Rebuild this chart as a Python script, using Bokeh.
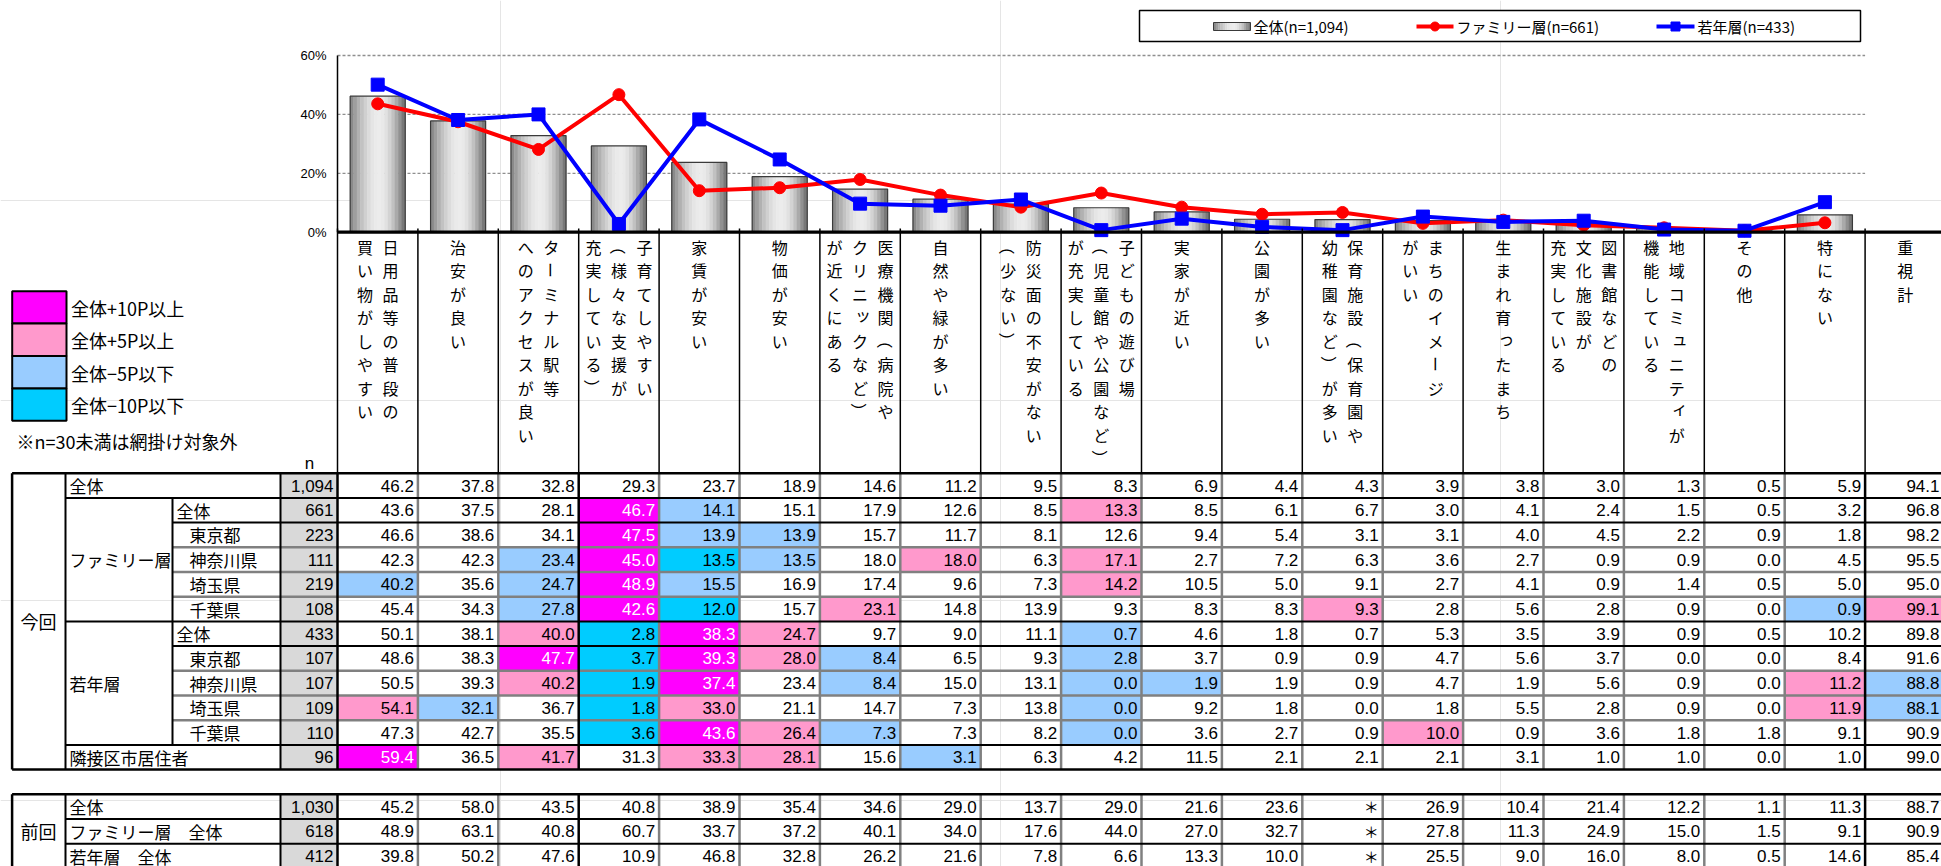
import math
from bokeh.plotting import figure
from bokeh.models import Range1d
from bokeh.core.properties import value
from bokeh.embed import file_html
from bokeh.resources import INLINE

# ---------------- data ----------------
header_lines = [
    ["日用品等の普段の", "買い物がしやすい"],
    ["治安が良い"],
    ["ターミナル駅等", "へのアクセスが良い"],
    ["子育てしやすい", "（様々な支援が", "充実している）"],
    ["家賃が安い"],
    ["物価が安い"],
    ["医療機関（病院や", "クリニックなど）", "が近くにある"],
    ["自然や緑が多い"],
    ["防災面の不安がない", "（少ない）"],
    ["子どもの遊び場", "（児童館や公園など）", "が充実している"],
    ["実家が近い"],
    ["公園が多い"],
    ["保育施設（保育園や", "幼稚園など）が多い"],
    ["まちのイメージ", "がいい"],
    ["生まれ育ったまち"],
    ["図書館などの", "文化施設が", "充実している"],
    ["地域コミュニティが", "機能している"],
    ["その他"],
    ["特にない"],
    ["重視計"],
]

now_all = [46.2, 37.8, 32.8, 29.3, 23.7, 18.9, 14.6, 11.2, 9.5, 8.3, 6.9, 4.4, 4.3, 3.9, 3.8, 3.0, 1.3, 0.5, 5.9, 94.1]
now_fam_all = [43.6, 37.5, 28.1, 46.7, 14.1, 15.1, 17.9, 12.6, 8.5, 13.3, 8.5, 6.1, 6.7, 3.0, 4.1, 2.4, 1.5, 0.5, 3.2, 96.8]
now_fam_tokyo = [46.6, 38.6, 34.1, 47.5, 13.9, 13.9, 15.7, 11.7, 8.1, 12.6, 9.4, 5.4, 3.1, 3.1, 4.0, 4.5, 2.2, 0.9, 1.8, 98.2]
now_fam_kanagawa = [42.3, 42.3, 23.4, 45.0, 13.5, 13.5, 18.0, 18.0, 6.3, 17.1, 2.7, 7.2, 6.3, 3.6, 2.7, 0.9, 0.9, 0.0, 4.5, 95.5]
now_fam_saitama = [40.2, 35.6, 24.7, 48.9, 15.5, 16.9, 17.4, 9.6, 7.3, 14.2, 10.5, 5.0, 9.1, 2.7, 4.1, 0.9, 1.4, 0.5, 5.0, 95.0]
now_fam_chiba = [45.4, 34.3, 27.8, 42.6, 12.0, 15.7, 23.1, 14.8, 13.9, 9.3, 8.3, 8.3, 9.3, 2.8, 5.6, 2.8, 0.9, 0.0, 0.9, 99.1]
now_yng_all = [50.1, 38.1, 40.0, 2.8, 38.3, 24.7, 9.7, 9.0, 11.1, 0.7, 4.6, 1.8, 0.7, 5.3, 3.5, 3.9, 0.9, 0.5, 10.2, 89.8]
now_yng_tokyo = [48.6, 38.3, 47.7, 3.7, 39.3, 28.0, 8.4, 6.5, 9.3, 2.8, 3.7, 0.9, 0.9, 4.7, 5.6, 3.7, 0.0, 0.0, 8.4, 91.6]
now_yng_kanagawa = [50.5, 39.3, 40.2, 1.9, 37.4, 23.4, 8.4, 15.0, 13.1, 0.0, 1.9, 1.9, 0.9, 4.7, 1.9, 5.6, 0.9, 0.0, 11.2, 88.8]
now_yng_saitama = [54.1, 32.1, 36.7, 1.8, 33.0, 21.1, 14.7, 7.3, 13.8, 0.0, 9.2, 1.8, 0.0, 1.8, 5.5, 2.8, 0.9, 0.0, 11.9, 88.1]
now_yng_chiba = [47.3, 42.7, 35.5, 3.6, 43.6, 26.4, 7.3, 7.3, 8.2, 0.0, 3.6, 2.7, 0.9, 10.0, 0.9, 3.6, 1.8, 1.8, 9.1, 90.9]
now_adjacent = [59.4, 36.5, 41.7, 31.3, 33.3, 28.1, 15.6, 3.1, 6.3, 4.2, 11.5, 2.1, 2.1, 2.1, 3.1, 1.0, 1.0, 0.0, 1.0, 99.0]
now_n = [1094, 661, 223, 111, 219, 108, 433, 107, 107, 109, 110, 96]

prev_all = [45.2, 58.0, 43.5, 40.8, 38.9, 35.4, 34.6, 29.0, 13.7, 29.0, 21.6, 23.6, None, 26.9, 10.4, 21.4, 12.2, 1.1, 11.3, 88.7]
prev_fam = [48.9, 63.1, 40.8, 60.7, 33.7, 37.2, 40.1, 34.0, 17.6, 44.0, 27.0, 32.7, None, 27.8, 11.3, 24.9, 15.0, 1.5, 9.1, 90.9]
prev_yng = [39.8, 50.2, 47.6, 10.9, 46.8, 32.8, 26.2, 21.6, 7.8, 6.6, 13.3, 10.0, None, 25.5, 9.0, 16.0, 8.0, 0.5, 14.6, 85.4]
prev_n = [1030, 618, 412]

legend_labels = ["全体(n=1,094)", "ファミリー層(n=661)", "若年層(n=433)"]
pct_ticks = [0, 20, 40, 60]
grid_ticks = [20, 40, 60]
shade_legend = ["全体+10P以上", "全体+5P以上", "全体−5P以下", "全体−10P以下"]
shade_colors = ["#FF00FF", "#FF99CC", "#99CCFF", "#00CCFF"]

now_rows = [now_all, now_fam_all, now_fam_tokyo, now_fam_kanagawa, now_fam_saitama, now_fam_chiba,
            now_yng_all, now_yng_tokyo, now_yng_kanagawa, now_yng_saitama, now_yng_chiba, now_adjacent]
prev_rows = [prev_all, prev_fam, prev_yng]

# chart series (first 19 categories; 重視計 is table only)
NCAT = 19
bar_overall = now_all[:NCAT]
line_family = now_fam_all[:NCAT]
line_young = now_yng_all[:NCAT]

# ---------------- geometry ----------------
JP = "Noto Sans CJK JP"
NUM = "Liberation Sans"
W, H = 1941, 866
OFF = 0.0


def fx(X):
    return X - OFF


def fy(Y):
    return Y - OFF


COL0, CW = 337.0, 80.4
AXIS0, PCT60 = 231.7, 55.0
PPP = (AXIS0 - PCT60) / 60.0
ROW0, RH = 472.7, 24.7

p = figure(width=W, height=H, x_range=Range1d(0, W), y_range=Range1d(H, 0),
           output_backend="svg", toolbar_location=None,
           x_axis_location=None, y_axis_location=None, min_border=0,
           outline_line_color=None, background_fill_color="white", border_fill_color="white")
p.extra_x_ranges = {"cat": Range1d((0 - fx(COL0)) / CW, (W - fx(COL0)) / CW)}
p.extra_y_ranges = {"pct": Range1d(-(H - fy(AXIS0)) / PPP, fy(AXIS0) / PPP),
                    "row": Range1d((H - fy(ROW0)) / RH, -fy(ROW0) / RH)}

# ---------------- chart ----------------
xc = [i + 0.5 for i in range(NCAT)]
p.segment(x0=[0] * len(grid_ticks), x1=[NCAT] * len(grid_ticks), y0=grid_ticks, y1=grid_ticks,
          x_range_name="cat", y_range_name="pct", line_color="#8f8f8f", line_width=1.3, line_dash="3 2")
p.text(x=[fx(326)] * len(pct_ticks), y=pct_ticks, text=[f"{t}%" for t in pct_ticks], y_range_name="pct",
       text_align="right", text_baseline="middle", text_font=value(NUM), text_font_size="13px", text_color="black")

shades = ["#8a8a8a", "#9e9e9e", "#b1b1b1", "#c2c2c2", "#d0d0d0", "#dcdcdc", "#e5e5e5", "#eaeaea",
          "#ececec", "#e9e9e9", "#e1e1e1", "#d3d3d3", "#c1c1c1", "#aaaaaa", "#919191", "#787878"]
BW = 0.685
sw = BW / len(shades)
for k, c in enumerate(shades):
    off = -BW / 2 + (k + 0.5) * sw
    p.vbar(x=[x + off for x in xc], top=bar_overall, bottom=0, width=sw * 1.12,
           fill_color=c, line_color=None, x_range_name="cat", y_range_name="pct")
p.vbar(x=xc, top=bar_overall, bottom=0, width=BW, fill_color=None, line_color="#3a3a3a", line_width=1.2,
       x_range_name="cat", y_range_name="pct")

p.line(xc, line_family, line_color="#FF0000", line_width=4, x_range_name="cat", y_range_name="pct")
p.scatter(xc, line_family, marker="circle", size=12, fill_color="#FF0000", line_color="#FF0000",
          x_range_name="cat", y_range_name="pct")
p.line(xc, line_young, line_color="#0000FF", line_width=4, x_range_name="cat", y_range_name="pct")
p.scatter(xc, line_young, marker="square", size=13, fill_color="#0000FF", line_color="#0000FF",
          x_range_name="cat", y_range_name="pct")

# axes lines
p.segment(x0=[0], x1=[0], y0=[0], y1=[60], x_range_name="cat", y_range_name="pct",
          line_color="black", line_width=1.5)

# ---------------- header (vertical text) ----------------
ncol = len(header_lines)
p.segment(x0=list(range(ncol)), x1=list(range(ncol)), y0=[fy(228)] * ncol, y1=[fy(ROW0)] * ncol,
          x_range_name="cat", line_color="black", line_width=1.5)
p.segment(x0=[0], x1=[ncol + 2], y0=[0], y1=[0], x_range_name="cat", y_range_name="pct",
          line_color="black", line_width=3.2)

ROTATE = set("ー（）")
SMALL = set("ァィゥェォッャュョっゃゅょ")
LINE_GAP, PITCH, HEAD_Y0 = 25.5, 23.5, 246.0
hx, hy, ht, ha, hdx, hdy = [], [], [], [], [], []
for j, lines in enumerate(header_lines):
    n = len(lines)
    for L, line in enumerate(lines):
        xoff = ((n - 1) / 2 - L) * LINE_GAP / CW
        for k, ch in enumerate(line):
            hx.append(j + 0.5 + xoff)
            hy.append(fy(HEAD_Y0) + k * PITCH)
            ht.append(ch)
            ha.append(-math.pi / 2 if ch in ROTATE else 0.0)
            hdx.append(3 if ch in SMALL else 0)
            hdy.append(-3 if ch in SMALL else 0)
p.text(x=hx, y=hy, text=ht, angle=ha, x_offset=hdx, y_offset=hdy, x_range_name="cat",
       text_align="center", text_baseline="middle", text_font=value(JP), text_font_size="16px",
       text_color="black")

p.text(x=[fx(309)], y=[fy(463)], text=["n"], text_align="center", text_baseline="middle",
       text_font=value(NUM), text_font_size="17px", text_color="black")

# ---------------- left shading legend ----------------
lg_top = [290.7 + i * 32.4 for i in range(len(shade_colors))]
p.quad(left=[fx(11.7)] * 4, right=[fx(66)] * 4, top=[fy(t) for t in lg_top],
       bottom=[fy(t + 32.4) for t in lg_top], fill_color=shade_colors, line_color="black", line_width=2)
p.text(x=[fx(70.5)] * 4, y=[fy(t + 16.6) for t in lg_top], text=shade_legend, text_align="left",
       text_baseline="middle", text_font=value(JP), text_font_size="18px", text_color="black")
p.text(x=[fx(16)], y=[fy(440)], text=["※n=30未満は網掛け対象外"], text_align="left",
       text_baseline="middle", text_font=value(JP), text_font_size="18px", text_color="black")


# ---------------- table ----------------
def shade(v, base):
    d = round(v - base, 1)
    if d >= 10:
        return shade_colors[0]
    if d >= 5:
        return shade_colors[1]
    if d <= -10:
        return shade_colors[3]
    if d <= -5:
        return shade_colors[2]
    return None


PREV0 = len(now_rows) + 1  # first row index of 前回 block
all_row_idx = list(range(len(now_rows))) + [PREV0 + i for i in range(len(prev_rows))]

# n column fill
p.quad(left=[fx(280)] * len(all_row_idx), right=[fx(COL0)] * len(all_row_idx),
       top=all_row_idx, bottom=[r + 1 for r in all_row_idx], y_range_name="row",
       fill_color="#D9D9D9", line_color=None)

cl, cr, ct, cb, cc = [], [], [], [], []
tx, ty, tt, tcol, tdx = [], [], [], [], []
XMAX_CAT = (W - 2 - fx(COL0)) / CW
for r, row in enumerate(now_rows):
    for j, v in enumerate(row):
        col = shade(v, now_all[j]) if r > 0 and now_n[r] >= 30 else None
        if col:
            cl.append(j); cr.append(j + 1); ct.append(r); cb.append(r + 1); cc.append(col)
        tx.append(min(j + 1, XMAX_CAT)); ty.append(r + 0.5); tt.append(f"{v:.1f}")
        tcol.append("white" if col == shade_colors[0] else "black")
        tdx.append(-4 if j + 1 < XMAX_CAT else 0)
ax, ay, at = [], [], []
for i, row in enumerate(prev_rows):
    r = PREV0 + i
    for j, v in enumerate(row):
        if v is None:
            ax.append(j + 1); ay.append(r + 0.5); at.append("＊")
            continue
        tx.append(min(j + 1, XMAX_CAT)); ty.append(r + 0.5); tt.append(f"{v:.1f}")
        tcol.append("black"); tdx.append(-4 if j + 1 < XMAX_CAT else 0)

p.quad(left=cl, right=cr, top=ct, bottom=cb, fill_color=cc, line_color=None,
       x_range_name="cat", y_range_name="row")

# grid lines: gray inner verticals
vg = [j for j in range(1, NCAT) if j != 3]
segs_v_top = [0] * len(vg) + [PREV0] * len(vg)
p.segment(x0=vg + vg, x1=vg + vg, y0=segs_v_top,
          y1=[len(now_rows)] * len(vg) + [PREV0 + len(prev_rows) + 1] * len(vg),
          x_range_name="cat", y_range_name="row", line_color="#808080", line_width=2.5)

# horizontal lines: (row boundary, start X, color, width)
hlines = [(0, 11.6, "black", 2.5), (1, 65, "black", 2), (2, 172, "black", 2),
          (3, 172, "#808080", 2.5), (4, 172, "#808080", 2.5), (5, 172, "#808080", 2.5),
          (6, 65, "black", 2), (7, 172, "black", 2),
          (8, 172, "#808080", 2.5), (9, 172, "#808080", 2.5), (10, 172, "#808080", 2.5),
          (11, 65, "black", 2), (12, 11.6, "black", 2.5),
          (PREV0, 11.6, "black", 2.5), (PREV0 + 1, 65, "black", 2), (PREV0 + 2, 65, "black", 2)]
for colr, lw in [("#808080", 2.5), ("black", 2), ("black", 2.5)]:
    sel = [h for h in hlines if h[2] == colr and h[3] == lw]
    p.segment(x0=[fx(h[1]) for h in sel], x1=[W + 5] * len(sel), y0=[h[0] for h in sel],
              y1=[h[0] for h in sel], y_range_name="row", line_color=colr, line_width=lw)

# black verticals (pixel columns)
vb_px = [(11.6, 2.5), (65, 2), (280, 2)]
for X, lw in vb_px:
    p.segment(x0=[fx(X)] * 2, x1=[fx(X)] * 2, y0=[0, PREV0], y1=[len(now_rows), PREV0 + len(prev_rows) + 1],
              y_range_name="row", line_color="black", line_width=lw)
p.segment(x0=[fx(172)], x1=[fx(172)], y0=[1], y1=[len(now_rows) - 1], y_range_name="row",
          line_color="black", line_width=2)
vb_cat = [0, 3, NCAT]
p.segment(x0=vb_cat + vb_cat, x1=vb_cat + vb_cat, y0=[0] * 3 + [PREV0] * 3,
          y1=[len(now_rows)] * 3 + [PREV0 + len(prev_rows) + 1] * 3,
          x_range_name="cat", y_range_name="row", line_color="black", line_width=2.5)

# values
p.text(x=tx, y=ty, text=tt, x_offset=tdx, text_color=tcol, x_range_name="cat", y_range_name="row",
       text_align="right", text_baseline="middle", text_font=value(NUM), text_font_size="17px")
p.text(x=ax, y=ay, text=at, x_offset=-4, x_range_name="cat", y_range_name="row",
       text_align="right", text_baseline="middle", text_font=value(JP), text_font_size="15px",
       text_color="black")

# n values
nr = all_row_idx
nvals = now_n + prev_n
p.text(x=[fx(COL0 - 4)] * len(nr), y=[r + 0.5 for r in nr], text=[f"{v:,}" for v in nvals],
       y_range_name="row", text_align="right", text_baseline="middle", text_font=value(NUM),
       text_font_size="17px", text_color="black")

# row labels
lvl1 = [(6.0, "今回"), (PREV0 + 1.5, "前回")]
p.text(x=[fx(38)] * 2, y=[a for a, _ in lvl1], text=[b for _, b in lvl1], y_range_name="row",
       text_align="center", text_baseline="middle", text_font=value(JP), text_font_size="18px",
       text_color="black")
lvl2 = [(0.5, "全体"), (3.5, "ファミリー層"), (8.5, "若年層"), (11.5, "隣接区市居住者"),
        (PREV0 + 0.5, "全体"), (PREV0 + 1.5, "ファミリー層　全体"), (PREV0 + 2.5, "若年層　全体")]
p.text(x=[fx(69)] * len(lvl2), y=[a for a, _ in lvl2], text=[b for _, b in lvl2], y_range_name="row",
       text_align="left", text_baseline="middle", text_font=value(JP), text_font_size="17px",
       text_color="black")
lvl3 = [(1.5, "全体", 176), (2.5, "東京都", 189), (3.5, "神奈川県", 189), (4.5, "埼玉県", 189),
        (5.5, "千葉県", 189), (6.5, "全体", 176), (7.5, "東京都", 189), (8.5, "神奈川県", 189),
        (9.5, "埼玉県", 189), (10.5, "千葉県", 189)]
p.text(x=[fx(c) for _, _, c in lvl3], y=[a for a, _, _ in lvl3], text=[b for _, b, _ in lvl3],
       y_range_name="row", text_align="left", text_baseline="middle", text_font=value(JP),
       text_font_size="17px", text_color="black")

# ---------------- top legend ----------------
p.quad(left=[fx(1139)], right=[fx(1860)], top=[fy(10)], bottom=[fy(41)], fill_color="white",
       line_color="black", line_width=1.5)
LY = fy(26)
ic_l, ic_r = fx(1213), fx(1250)
isw = (ic_r - ic_l) / len(shades)
p.quad(left=[ic_l + k * isw for k in range(len(shades))], right=[ic_l + (k + 1.1) * isw for k in range(len(shades))],
       top=[LY - 4] * len(shades), bottom=[LY + 4] * len(shades), fill_color=shades, line_color=None)
p.quad(left=[ic_l], right=[ic_r], top=[LY - 4], bottom=[LY + 4], fill_color=None, line_color="#3a3a3a",
       line_width=1)
p.segment(x0=[fx(1416), fx(1656)], x1=[fx(1453), fx(1694)], y0=[LY, LY], y1=[LY, LY],
          line_color=["#FF0000", "#0000FF"], line_width=4)
p.scatter(x=[fx(1434.5)], y=[LY], marker="circle", size=9, fill_color="#FF0000", line_color="#FF0000")
p.scatter(x=[fx(1675)], y=[LY], marker="square", size=9, fill_color="#0000FF", line_color="#0000FF")
p.text(x=[fx(1253), fx(1456), fx(1697)], y=[LY] * 3, text=legend_labels, text_align="left",
       text_baseline="middle", text_font=value(JP), text_font_size="15px", text_color="black")

open("out.html", "w").write(file_html(p, INLINE))
